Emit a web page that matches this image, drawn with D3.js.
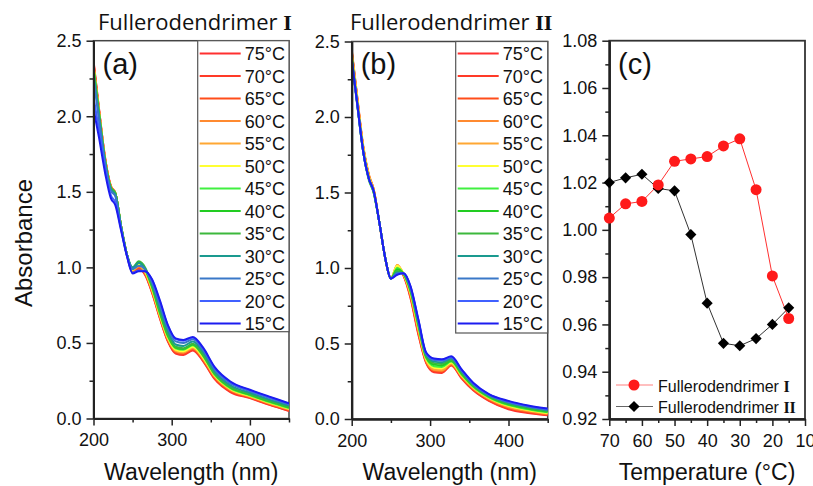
<!DOCTYPE html>
<html>
<head>
<meta charset="utf-8">
<script src="https://cdn.jsdelivr.net/npm/d3@7"></script>
<style>
  body { margin: 0; background: #fff; }
  text { font-family: "Liberation Sans", Arial, sans-serif; fill: #111; }
</style>
</head>
<body>
<div id="chart"></div>
<script>
(function () {

  // temperatures of the spectra (legend order) and their colours
  var temps = [75, 70, 65, 60, 55, 50, 45, 40, 35, 30, 25, 20, 15]
  var tempColors = ["#ff3030", "#ff3a28", "#ff4d1a", "#ff8a30", "#ffa733", "#ffff33", "#40f040",
                    "#22cc22", "#3cb83c", "#1a9a8f", "#3a78c8", "#4060ff", "#1c1cf0"]

  var wavelengths = [200, 207, 215, 222, 228, 235, 243, 250, 258, 266, 275, 285, 295, 305, 315, 327, 340, 355, 375, 400, 425, 450]

  // (a) Fullerodendrimer I, one row per temperature
  var absA = [
    [2.37, 2.05, 1.72, 1.54, 1.49, 1.28, 1.08, 0.97, 0.99, 0.95, 0.83, 0.66, 0.51, 0.43, 0.42, 0.45, 0.38, 0.26, 0.175, 0.135, 0.09, 0.05],
    [2.36, 2.05, 1.72, 1.54, 1.49, 1.28, 1.08, 0.97, 0.995, 0.955, 0.835, 0.665, 0.515, 0.435, 0.425, 0.455, 0.385, 0.265, 0.18, 0.138, 0.093, 0.053],
    [2.35, 2.04, 1.71, 1.54, 1.49, 1.28, 1.08, 0.975, 1.0, 0.96, 0.84, 0.67, 0.52, 0.44, 0.43, 0.46, 0.39, 0.27, 0.185, 0.141, 0.096, 0.056],
    [2.34, 2.04, 1.71, 1.54, 1.49, 1.28, 1.08, 0.98, 1.005, 0.965, 0.845, 0.675, 0.525, 0.445, 0.435, 0.465, 0.395, 0.275, 0.188, 0.144, 0.099, 0.059],
    [2.33, 2.03, 1.71, 1.53, 1.49, 1.28, 1.08, 0.98, 1.01, 0.97, 0.85, 0.68, 0.53, 0.45, 0.44, 0.47, 0.40, 0.28, 0.192, 0.147, 0.102, 0.062],
    [2.33, 2.03, 1.70, 1.53, 1.49, 1.28, 1.08, 0.985, 1.02, 0.975, 0.855, 0.685, 0.535, 0.455, 0.445, 0.475, 0.405, 0.285, 0.196, 0.15, 0.105, 0.065],
    [2.32, 2.02, 1.70, 1.53, 1.49, 1.28, 1.08, 0.99, 1.03, 0.985, 0.865, 0.695, 0.545, 0.465, 0.455, 0.485, 0.415, 0.29, 0.20, 0.154, 0.109, 0.069],
    [2.32, 2.02, 1.70, 1.53, 1.49, 1.28, 1.08, 0.99, 1.035, 0.99, 0.87, 0.70, 0.55, 0.47, 0.46, 0.49, 0.42, 0.295, 0.205, 0.158, 0.113, 0.073],
    [2.31, 2.02, 1.70, 1.53, 1.49, 1.28, 1.08, 1.0, 1.04, 1.0, 0.88, 0.71, 0.56, 0.475, 0.465, 0.495, 0.425, 0.30, 0.21, 0.162, 0.117, 0.077],
    [2.28, 2.00, 1.69, 1.52, 1.48, 1.28, 1.08, 1.0, 1.03, 0.99, 0.89, 0.73, 0.58, 0.49, 0.48, 0.51, 0.44, 0.31, 0.22, 0.17, 0.125, 0.085],
    [2.25, 1.98, 1.68, 1.51, 1.47, 1.27, 1.08, 0.99, 1.01, 0.985, 0.90, 0.75, 0.60, 0.51, 0.50, 0.525, 0.455, 0.325, 0.232, 0.18, 0.135, 0.093],
    [2.13, 1.91, 1.65, 1.48, 1.43, 1.26, 1.07, 0.965, 0.98, 0.975, 0.915, 0.77, 0.615, 0.525, 0.515, 0.535, 0.465, 0.335, 0.24, 0.186, 0.141, 0.098],
    [2.05, 1.86, 1.62, 1.46, 1.41, 1.25, 1.07, 0.96, 0.975, 0.975, 0.92, 0.78, 0.62, 0.53, 0.52, 0.54, 0.47, 0.34, 0.245, 0.19, 0.145, 0.10]
  ]

  // (b) Fullerodendrimer II
  var absB = [
    [2.44, 2.13, 1.79, 1.61, 1.52, 1.31, 1.06, 0.93, 1.0, 0.95, 0.80, 0.56, 0.37, 0.31, 0.305, 0.355, 0.27, 0.19, 0.12, 0.065, 0.04, 0.025],
    [2.44, 2.13, 1.79, 1.61, 1.52, 1.31, 1.06, 0.93, 1.005, 0.952, 0.81, 0.57, 0.375, 0.315, 0.31, 0.358, 0.274, 0.194, 0.124, 0.07, 0.044, 0.028],
    [2.43, 2.12, 1.79, 1.61, 1.52, 1.31, 1.06, 0.93, 1.01, 0.955, 0.815, 0.575, 0.38, 0.32, 0.315, 0.36, 0.278, 0.198, 0.128, 0.074, 0.048, 0.031],
    [2.45, 2.14, 1.80, 1.62, 1.52, 1.31, 1.06, 0.93, 1.02, 0.96, 0.82, 0.585, 0.385, 0.325, 0.32, 0.365, 0.282, 0.202, 0.132, 0.078, 0.052, 0.034],
    [2.43, 2.12, 1.79, 1.61, 1.52, 1.31, 1.06, 0.93, 1.02, 0.962, 0.83, 0.595, 0.39, 0.33, 0.325, 0.37, 0.286, 0.206, 0.136, 0.082, 0.056, 0.037],
    [2.42, 2.11, 1.78, 1.60, 1.51, 1.31, 1.06, 0.93, 1.015, 0.962, 0.835, 0.605, 0.395, 0.34, 0.335, 0.375, 0.29, 0.21, 0.14, 0.087, 0.06, 0.04],
    [2.40, 2.10, 1.77, 1.59, 1.50, 1.31, 1.06, 0.93, 1.0, 0.962, 0.845, 0.615, 0.405, 0.35, 0.345, 0.38, 0.296, 0.214, 0.144, 0.092, 0.065, 0.044],
    [2.39, 2.09, 1.76, 1.59, 1.50, 1.31, 1.06, 0.93, 0.99, 0.963, 0.85, 0.625, 0.41, 0.36, 0.355, 0.385, 0.302, 0.218, 0.148, 0.097, 0.07, 0.048],
    [2.38, 2.08, 1.76, 1.58, 1.50, 1.31, 1.06, 0.93, 0.98, 0.963, 0.855, 0.635, 0.415, 0.37, 0.365, 0.39, 0.308, 0.222, 0.152, 0.102, 0.074, 0.052],
    [2.39, 2.09, 1.76, 1.59, 1.51, 1.31, 1.06, 0.93, 0.97, 0.964, 0.865, 0.645, 0.425, 0.38, 0.375, 0.40, 0.316, 0.228, 0.156, 0.107, 0.079, 0.057],
    [2.38, 2.09, 1.76, 1.59, 1.51, 1.31, 1.06, 0.93, 0.965, 0.965, 0.87, 0.65, 0.43, 0.39, 0.385, 0.405, 0.322, 0.232, 0.16, 0.112, 0.083, 0.062],
    [2.38, 2.09, 1.76, 1.59, 1.51, 1.31, 1.06, 0.93, 0.958, 0.965, 0.875, 0.655, 0.435, 0.395, 0.39, 0.41, 0.326, 0.236, 0.163, 0.116, 0.087, 0.066],
    [2.38, 2.09, 1.76, 1.59, 1.51, 1.31, 1.06, 0.93, 0.955, 0.965, 0.88, 0.66, 0.44, 0.40, 0.395, 0.415, 0.33, 0.24, 0.165, 0.12, 0.09, 0.07]
  ]

  // (c) absorbance ratio vs temperature
  var tempC = [70, 65, 60, 55, 50, 45, 40, 35, 30, 25, 20, 15]
  var ratioI = [1.005, 1.011, 1.012, 1.019, 1.029, 1.030, 1.031, 1.0355, 1.0385, 1.017, 0.9805, 0.9625]
  var ratioII = [1.020, 1.022, 1.0235, 1.0175, 1.0165, 0.998, 0.969, 0.952, 0.951, 0.954, 0.960, 0.967]

  var svg = d3.select("#chart").append("svg")
    .attr("width", 813)
    .attr("height", 486)

  function styleAxis(g, fontSize) {
    g.select(".domain").attr("stroke", "#222").attr("stroke-width", 2)
    g.selectAll(".tick line").attr("stroke", "#222").attr("stroke-width", 1.5)
    g.selectAll(".tick text")
      .attr("font-family", "Liberation Sans, Arial, sans-serif")
      .attr("font-size", fontSize)
      .attr("fill", "#111")
  }

  function title(x, y, roman, size) {
    var t = svg.append("text").attr("x", x).attr("y", y)
    t.append("tspan")
      .attr("font-family", "Open Sans, sans-serif")
      .attr("font-size", size)
      .text("Fullerodendrimer ")
    t.append("tspan")
      .attr("font-family", "Liberation Serif, serif")
      .attr("font-weight", "bold")
      .attr("font-size", size)
      .text(roman)
    return t
  }

  function drawSpectra(opts) {
    var x = d3.scaleLinear().domain([200, 450]).range(opts.xr)
    var y = d3.scaleLinear().domain([0, 2.5]).range(opts.yr)

    var clipId = "clip-" + opts.name
    svg.append("clipPath").attr("id", clipId)
      .append("rect")
      .attr("x", opts.xr[0]).attr("y", opts.yr[1])
      .attr("width", opts.xr[1] - opts.xr[0]).attr("height", opts.yr[0] - opts.yr[1])

    // frame
    svg.append("rect")
      .attr("x", opts.xr[0]).attr("y", opts.yr[1])
      .attr("width", opts.xr[1] - opts.xr[0]).attr("height", opts.yr[0] - opts.yr[1])
      .attr("fill", "none").attr("stroke", "#444").attr("stroke-width", 1.5)

    var line = d3.line()
      .x(function (d, i) { return x(wavelengths[i]) })
      .y(function (d) { return y(d) })
      .curve(d3.curveMonotoneX)

    svg.append("g").attr("clip-path", "url(#" + clipId + ")")
      .selectAll("path")
      .data(opts.data)
      .enter()
      .append("path")
      .attr("d", line)
      .attr("fill", "none")
      .attr("stroke", function (d, i) { return tempColors[i] })
      .attr("stroke-width", 2)

    // minor ticks first, then major ticks and labels
    svg.append("g").attr("transform", "translate(0," + opts.yr[0] + ")")
      .call(d3.axisBottom(x).tickValues([250, 350, 450]).tickFormat("").tickSize(4).tickSizeOuter(0))
      .call(styleAxis, 18)
    svg.append("g").attr("transform", "translate(" + opts.xr[0] + ",0)")
      .call(d3.axisLeft(y).tickValues([0.25, 0.75, 1.25, 1.75, 2.25]).tickFormat("").tickSize(4).tickSizeOuter(0))
      .call(styleAxis, 18)
    svg.append("g").attr("transform", "translate(0," + opts.yr[0] + ")")
      .call(d3.axisBottom(x).tickValues([200, 300, 400]).tickFormat(d3.format("d")).tickSize(7).tickSizeOuter(0).tickPadding(8))
      .call(styleAxis, 18)
    svg.append("g").attr("transform", "translate(" + opts.xr[0] + ",0)")
      .call(d3.axisLeft(y).tickValues([0, 0.5, 1, 1.5, 2, 2.5]).tickFormat(d3.format(".1f")).tickSize(7).tickSizeOuter(0).tickPadding(5))
      .call(styleAxis, 18)

    // legend
    var lg = svg.append("g")
    lg.append("rect")
      .attr("x", opts.legX).attr("y", opts.yr[1])
      .attr("width", opts.xr[1] - opts.legX).attr("height", opts.legBottom - opts.yr[1])
      .attr("fill", "#fff").attr("stroke", "#555").attr("stroke-width", 1.2)
    var rows = lg.selectAll(".row")
      .data(temps)
      .enter()
      .append("g")
      .attr("transform", function (d, i) { return "translate(0," + (60 + i * 22.5) + ")" })
    rows.append("line")
      .attr("x1", opts.legX + 2).attr("x2", opts.legX + 43)
      .attr("y1", -6.5).attr("y2", -6.5)
      .attr("stroke", function (d, i) { return tempColors[i] })
      .attr("stroke-width", 2)
    rows.append("text")
      .attr("x", opts.legX + 47)
      .attr("font-size", 18)
      .text(function (d) { return d + "°C" })

    svg.append("text")
      .attr("x", opts.xr[0] + 9).attr("y", 74)
      .attr("font-size", 29)
      .text(opts.label)

    svg.append("text")
      .attr("x", (opts.xr[0] + opts.xr[1]) / 2).attr("y", 480)
      .attr("text-anchor", "middle")
      .attr("font-size", 23)
      .text("Wavelength (nm)")
  }

  drawSpectra({ name: "a", data: absA, xr: [93.5, 289], yr: [418.5, 40.7], legX: 197.7, legBottom: 331.7, label: "(a)" })
  drawSpectra({ name: "b", data: absB, xr: [351.7, 547.7], yr: [419, 41.5], legX: 455.7, legBottom: 333, label: "(b)" })

  title(98, 30, "I", 22)
  title(350, 30, "II", 22)

  svg.append("text")
    .attr("transform", "translate(32,243) rotate(-90)")
    .attr("text-anchor", "middle")
    .attr("font-size", 24)
    .text("Absorbance")

  // panel (c)
  var xC = d3.scaleLinear().domain([70, 10]).range([609.3, 805])
  var yC = d3.scaleLinear().domain([0.92, 1.08]).range([419, 40.7])

  svg.append("rect")
    .attr("x", 609.3).attr("y", 40.7)
    .attr("width", 805 - 609.3).attr("height", 419 - 40.7)
    .attr("fill", "none").attr("stroke", "#333").attr("stroke-width", 1.8)

  svg.append("g").attr("transform", "translate(0,419)")
    .call(d3.axisBottom(xC).tickValues([65, 55, 45, 35, 25, 15]).tickFormat("").tickSize(4).tickSizeOuter(0))
    .call(styleAxis, 18)
  svg.append("g").attr("transform", "translate(609.3,0)")
    .call(d3.axisLeft(yC).tickValues([0.93, 0.95, 0.97, 0.99, 1.01, 1.03, 1.05, 1.07]).tickFormat("").tickSize(4).tickSizeOuter(0))
    .call(styleAxis, 18)
  svg.append("g").attr("transform", "translate(0,419)")
    .call(d3.axisBottom(xC).tickValues([70, 60, 50, 40, 30, 20, 10]).tickFormat(d3.format("d")).tickSize(7).tickSizeOuter(0).tickPadding(8))
    .call(styleAxis, 18)
  svg.append("g").attr("transform", "translate(609.3,0)")
    .call(d3.axisLeft(yC).tickValues([0.92, 0.94, 0.96, 0.98, 1.0, 1.02, 1.04, 1.06, 1.08]).tickFormat(d3.format(".2f")).tickSize(7).tickSizeOuter(0).tickPadding(5))
    .call(styleAxis, 18)

  var lineC = d3.line()
    .x(function (d, i) { return xC(tempC[i]) })
    .y(function (d) { return yC(d) })

  svg.append("path").attr("d", lineC(ratioII))
    .attr("fill", "none").attr("stroke", "#333").attr("stroke-width", 1)
  svg.append("path").attr("d", lineC(ratioI))
    .attr("fill", "none").attr("stroke", "#ff3030").attr("stroke-width", 1)

  var diamond = d3.symbol().type(d3.symbolSquare).size(62)

  svg.selectAll(".pt2")
    .data(ratioII)
    .enter()
    .append("path")
    .attr("d", diamond)
    .attr("transform", function (d, i) { return "translate(" + xC(tempC[i]) + "," + yC(d) + ") rotate(45)" })
    .attr("fill", "#000")

  svg.selectAll(".pt1")
    .data(ratioI)
    .enter()
    .append("circle")
    .attr("cx", function (d, i) { return xC(tempC[i]) })
    .attr("cy", function (d) { return yC(d) })
    .attr("r", 5.5)
    .attr("fill", "#ff1a1a")

  svg.append("text")
    .attr("x", 618).attr("y", 74)
    .attr("font-size", 29)
    .text("(c)")

  // legend (c)
  svg.append("line").attr("x1", 616).attr("x2", 653).attr("y1", 385).attr("y2", 385)
    .attr("stroke", "#ff8080").attr("stroke-width", 1.2)
  svg.append("circle").attr("cx", 634).attr("cy", 385).attr("r", 5.5).attr("fill", "#ff1a1a")
  svg.append("line").attr("x1", 616).attr("x2", 653).attr("y1", 406.5).attr("y2", 406.5)
    .attr("stroke", "#666").attr("stroke-width", 1.2)
  svg.append("path").attr("d", diamond)
    .attr("transform", "translate(634,406.5) rotate(45)").attr("fill", "#000")

  function legText(y, roman) {
    var t = svg.append("text").attr("x", 658).attr("y", y).attr("font-size", 16)
    t.append("tspan").text("Fullerodendrimer ")
    t.append("tspan").attr("font-family", "Liberation Serif, serif").attr("font-weight", "bold").text(roman)
  }
  legText(391.5, "I")
  legText(413, "II")

  svg.append("text")
    .attr("x", 707).attr("y", 480)
    .attr("text-anchor", "middle")
    .attr("font-size", 23)
    .text("Temperature (°C)")

})()
</script>
</body>
</html>
